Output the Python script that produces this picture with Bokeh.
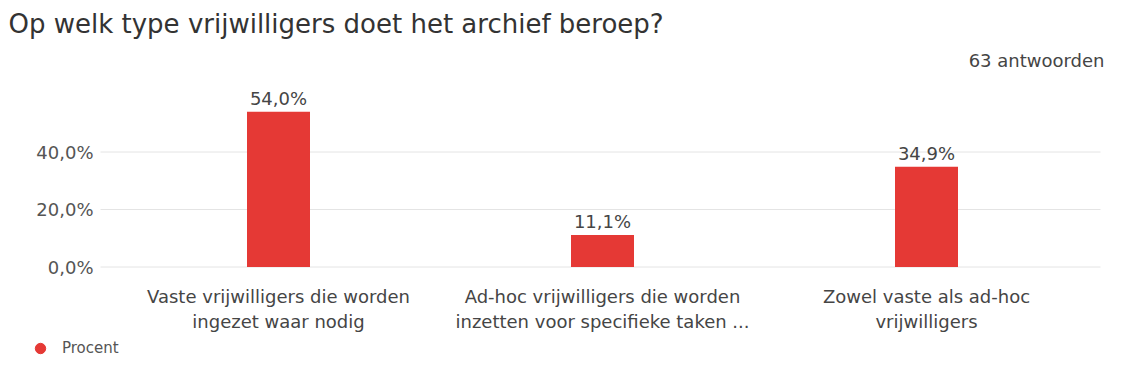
from bokeh.plotting import figure
from bokeh.models import (ColumnDataSource, LabelSet, Label, Range1d, Legend, LegendItem)
from bokeh.core.properties import value
from bokeh.embed import file_html
from bokeh.resources import INLINE

# ---- data ----
title_text = "Op welk type vrijwilligers doet het archief beroep?"
responses_text = "63 antwoorden"
categories = [
    "Vaste vrijwilligers die worden\ningezet waar nodig",
    "Ad-hoc vrijwilligers die worden\ninzetten voor specifieke taken ...",
    "Zowel vaste als ad-hoc\nvrijwilligers",
]
percent = [54.0, 11.1, 34.9]
y_ticks = [0, 20, 40]
y_tick_labels = ["0,0%", "20,0%", "40,0%"]
series_name = "Procent"

# ---- layout / style ----
FONT = "DejaVu Sans"
RED = "#e53935"
TXT = "#454545"
W, H = 1106, 362
CX0 = 278          # px of first category centre
PX_PER_CAT = 324.0
ZERO_PX = 266.5    # px of the 0 % line
PX_PER_PCT = 2.875
GRID_L, GRID_R = 100, 1100

def px2x(px):
    return (px - CX0) / PX_PER_CAT

def px2y(py):
    return (ZERO_PX - py) / PX_PER_PCT

xs = list(range(len(categories)))
line1 = [c.split("\n")[0] for c in categories]
line2 = [c.split("\n")[1] if "\n" in c else "" for c in categories]
value_labels = [f"{v:.1f}".replace(".", ",") + "%" for v in percent]

src = ColumnDataSource(dict(x=xs, top=percent, lab=value_labels, l1=line1, l2=line2))

p = figure(width=W, height=H, output_backend="svg", toolbar_location=None,
           x_range=Range1d(px2x(0), px2x(W)), y_range=Range1d(px2y(H), px2y(0)),
           min_border=0)
p.outline_line_color = None
p.axis.visible = False
p.grid.visible = False
p.background_fill_color = "white"
p.border_fill_color = "white"

# grid lines
p.segment(x0=[px2x(GRID_L)] * len(y_ticks), x1=[px2x(GRID_R)] * len(y_ticks),
          y0=y_ticks, y1=y_ticks, line_color="#e4e4e4", line_width=1)

# y tick labels
p.text(x=[px2x(93)] * len(y_ticks), y=y_ticks, text=y_tick_labels,
       text_align="right", text_baseline="middle", text_font=value(FONT),
       text_font_size="18px", text_color="#555555")

# bars
p.vbar(x="x", top="top", width=63 / PX_PER_CAT, source=src, color=RED, line_color=None)

# value labels
p.add_layout(LabelSet(x="x", y="top", text="lab", source=src, y_offset=3,
                      text_align="center", text_baseline="bottom",
                      text_font=value(FONT), text_font_size="18px", text_color=TXT))

# category labels (two rows)
p.text(x="x", y=px2y(296), text="l1", source=src,
       text_align="center", text_baseline="middle", text_font=value(FONT),
       text_font_size="18px", text_color=TXT)
p.text(x="x", y=px2y(321), text="l2", source=src,
       text_align="center", text_baseline="middle", text_font=value(FONT),
       text_font_size="18px", text_color=TXT)

# title and response count
p.add_layout(Label(x=px2x(8), y=px2y(23), text=title_text, text_font=FONT,
                   text_font_size="26px", text_color="#333333",
                   text_baseline="middle", text_align="left"))
p.add_layout(Label(x=px2x(1104), y=px2y(60), text=responses_text, text_font=FONT,
                   text_font_size="18px", text_color=TXT,
                   text_baseline="middle", text_align="right"))

# legend (marker size 0 in the plot; the legend draws its own sized circle)
r_leg = p.scatter(x="x", y="top", source=src, marker="circle", size=0,
                  fill_color=RED, line_color=RED)
legend = Legend(items=[LegendItem(label=series_name, renderers=[r_leg], index=0)],
                location=(27, 1), padding=0, margin=0, glyph_width=26,
                glyph_height=26, label_standoff=9, border_line_color=None,
                background_fill_alpha=0, label_text_font=FONT,
                label_text_font_size="15px", label_text_color="#555555")
p.add_layout(legend, "center")

open("out.html", "w").write(file_html(p, INLINE))
